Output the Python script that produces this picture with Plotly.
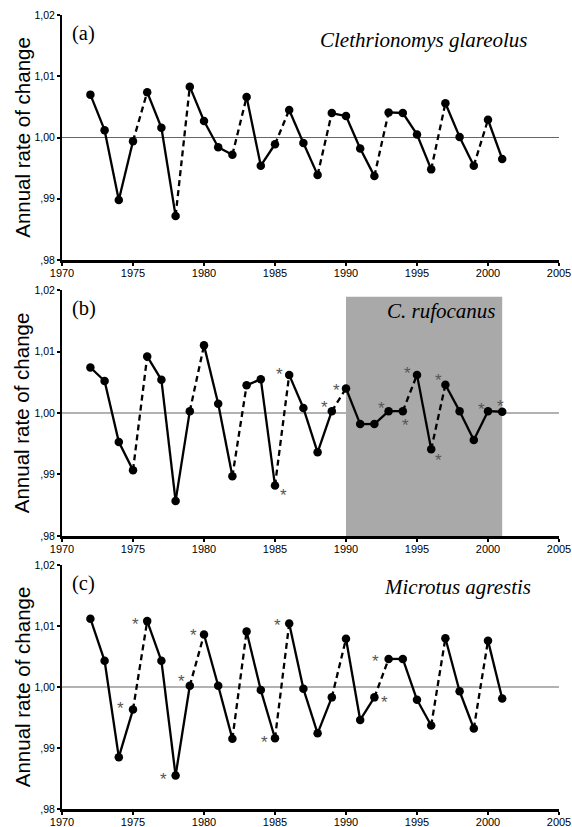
import plotly.graph_objects as go

# ---------------- data ----------------
years = list(range(1972, 2002))

glareolus = [1.0070, 1.0012, 0.9898, 0.9994, 1.0074, 1.0016, 0.9872, 1.0083, 1.0027, 0.9984,
             0.9972, 1.0066, 0.9954, 0.9989, 1.0045, 0.9991, 0.9939, 1.0040, 1.0035, 0.9982,
             0.9937, 1.0041, 1.0040, 1.0005, 0.9948, 1.0056, 1.0001, 0.9954, 1.0029, 0.9965]

rufocanus = [1.0074, 1.0052, 0.9953, 0.9907, 1.0092, 1.0054, 0.9857, 1.0003, 1.0110, 1.0015,
             0.9897, 1.0045, 1.0055, 0.9882, 1.0062, 1.0008, 0.9936, 1.0003, 1.0040, 0.9982,
             0.9982, 1.0003, 1.0003, 1.0062, 0.9941, 1.0046, 1.0003, 0.9956, 1.0003, 1.0002]

agrestis = [1.0112, 1.0043, 0.9885, 0.9963, 1.0108, 1.0043, 0.9855, 1.0002, 1.0086, 1.0002,
            0.9915, 1.0091, 0.9995, 0.9916, 1.0104, 0.9997, 0.9924, 0.9983, 1.0079, 0.9946,
            0.9983, 1.0046, 1.0046, 0.9979, 0.9937, 1.0080, 0.9993, 0.9932, 1.0076, 0.9981]

# years at which a dashed (increase) segment starts
dashed_a = [1975, 1978, 1982, 1985, 1988, 1992, 1996, 1999]
dashed_b = [1975, 1979, 1982, 1985, 1989, 1994, 1996]
dashed_c = [1975, 1979, 1982, 1985, 1989, 1992, 1996, 1999]

# years marked with an asterisk
stars_b = [1985, 1986, 1989, 1990, 1993, 1994, 1995, 1996, 1997, 2000, 2001]
stars_c = [1975, 1976, 1978, 1979, 1980, 1985, 1986, 1992, 1993]

shade_b = [1990, 2001]

panel_labels = ["(a)", "(b)", "(c)"]
species = ["Clethrionomys glareolus", "C. rufocanus", "Microtus agrestis"]

x_ticks = [1970, 1975, 1980, 1985, 1990, 1995, 2000, 2005]
y_ticks = [0.98, 0.99, 1.00, 1.01, 1.02]
y_ticktext = [",98", ",99", "1,00", "1,01", "1,02"]
y_title = "Annual rate of change"

# ---------------- style ----------------
# asterisk pixel offsets (dx, dy) relative to the point (screen px, y down)
star_off_b = [(8, 6), (-10, -4), (-7, -8), (-10, -2), (-7, -7), (3, 10), (-10, -5),
              (7, 7), (-7, -8), (-7, -6), (-2, -9)]
star_off_c = [(-13, -5), (-12, -1), (-12, 0), (-8, -8), (-11, -3), (-11, 0), (-12, -2),
              (10, 1), (-13, -1)]

# plot area: 15 px .. 809 px (794 px tall); panels 15-260, 290-535, 565-809
domains = [(0.6914, 1.0), (0.3439, 0.6536), (0.0, 0.3073)]
SANS = "Liberation Sans, Arial, sans-serif"
SERIF = "Liberation Serif, Times New Roman, serif"

fig = go.Figure()

series = [glareolus, rufocanus, agrestis]
dashes = [dashed_a, dashed_b, dashed_c]

for p in range(3):
    xa = "x" if p == 0 else f"x{p+1}"
    ya = "y" if p == 0 else f"y{p+1}"
    vals = series[p]
    sx, sy, dx, dy = [], [], [], []
    for i in range(len(years) - 1):
        if years[i] in dashes[p]:
            dx += [years[i], years[i + 1], None]
            dy += [vals[i], vals[i + 1], None]
        else:
            sx += [years[i], years[i + 1], None]
            sy += [vals[i], vals[i + 1], None]
    fig.add_trace(go.Scatter(x=sx, y=sy, mode="lines", xaxis=xa, yaxis=ya,
                             line=dict(color="black", width=2.3), showlegend=False,
                             hoverinfo="skip"))
    fig.add_trace(go.Scatter(x=dx, y=dy, mode="lines", xaxis=xa, yaxis=ya,
                             line=dict(color="black", width=2.3, dash="6px,4px"),
                             showlegend=False, hoverinfo="skip"))
    fig.add_trace(go.Scatter(x=years, y=vals, mode="markers", xaxis=xa, yaxis=ya,
                             marker=dict(color="black", size=8.5), showlegend=False))

layout = dict(
    width=572, height=827,
    margin=dict(l=62, r=13, t=15, b=18, autoexpand=False),
    paper_bgcolor="white", plot_bgcolor="white",
    shapes=[], annotations=[],
)

for p in range(3):
    sfx = "" if p == 0 else str(p + 1)
    layout["xaxis" + sfx] = dict(
        domain=[0, 1], anchor="y" + sfx, range=[1970, 2005],
        tickvals=x_ticks, ticktext=[str(t) for t in x_ticks],
        ticks="outside", ticklen=3, tickwidth=1.5, tickcolor="black",
        showline=True, linecolor="black", linewidth=2.5, showgrid=False,
        zeroline=False, tickfont=dict(family=SANS, size=11, color="black"),
        ticklabeloverflow="allow", automargin=False, ticklabelstandoff=-2,
    )
    layout["yaxis" + sfx] = dict(
        domain=list(domains[p]), anchor="x" + sfx, range=[0.98, 1.02],
        tickvals=y_ticks, ticktext=y_ticktext,
        ticks="outside", ticklen=3, tickwidth=1.5, tickcolor="black",
        showline=True, linecolor="black", linewidth=2, showgrid=False,
        zeroline=False, tickfont=dict(family=SANS, size=10.5, color="black"),
        ticklabeloverflow="allow", automargin=False,
    )
    xref = "x" + sfx
    yref = "y" + sfx
    layout["shapes"].append(dict(type="line", xref=xref + " domain", yref=yref,
                                 x0=0, x1=1, y0=1.0, y1=1.0,
                                 line=dict(color="#666666", width=1.2), layer="below"))
    layout["annotations"].append(dict(text=panel_labels[p], xref=xref + " domain",
                                      yref=yref + " domain", x=0.016, y=0.925,
                                      xanchor="left", yanchor="middle", showarrow=False,
                                      font=dict(family=SERIF, size=20.5, color="black")))
    layout["annotations"].append(dict(text="<i>" + species[p] + "</i>",
                                      xref=xref + " domain", yref=yref + " domain",
                                      x=[0.94, 0.878, 0.947][p], y=[0.90, 0.915, 0.91][p],
                                      xanchor="right", yanchor="middle", showarrow=False,
                                      font=dict(family=SERIF, size=21, color="black")))
    layout["annotations"].append(dict(text=y_title, xref="paper", yref=yref + " domain",
                                      x=-0.08, y=0.5, textangle=-90, xanchor="center",
                                      yanchor="middle", showarrow=False,
                                      font=dict(family=SANS, size=20.5, color="black")))

# shaded period in panel (b)
layout["shapes"].append(dict(type="rect", xref="x2", yref="y2", x0=shade_b[0], x1=shade_b[1],
                             y0=0.98, y1=1.0189, fillcolor="#a9a9a9",
                             line=dict(width=0), layer="below"))

for stars, offs, vals, sfx in [(stars_b, star_off_b, rufocanus, "2"),
                               (stars_c, star_off_c, agrestis, "3")]:
    for yr, (ox, oy) in zip(stars, offs):
        layout["annotations"].append(dict(text="*", x=yr, y=vals[years.index(yr)],
                                          xref="x" + sfx, yref="y" + sfx,
                                          xshift=ox, yshift=-oy - 4, showarrow=False,
                                          font=dict(family=SANS, size=17, color="#555555")))

fig.update_layout(**layout)
fig.write_html("out.html", config={"displayModeBar": False},
               post_script="document.body.style.margin='0';document.body.style.overflow='hidden';")
